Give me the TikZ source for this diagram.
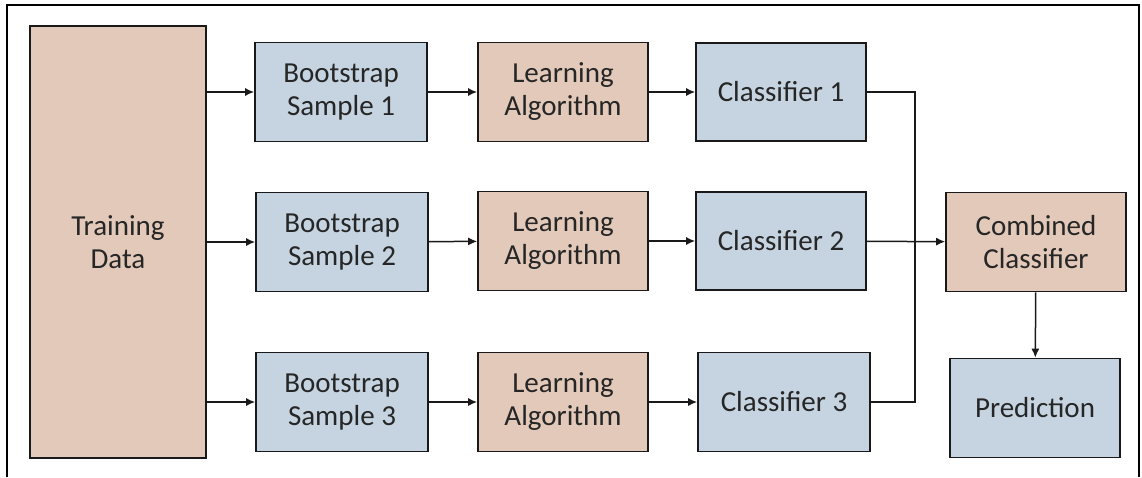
\documentclass[tikz,border=0pt]{standalone}
\usepackage{fontspec}
\setmainfont{Carlito}
\usepackage{tikz}
\usetikzlibrary{arrows.meta}

\definecolor{tanbox}{RGB}{226,201,185}
\definecolor{bluebox}{RGB}{197,212,224}

\tikzset{
  box/.style={draw=black!90, line width=1.6pt, align=center, text=black!85,
              font=\fontsize{29}{33}\selectfont, inner sep=0pt},
  tanbx/.style={box, fill=tanbox},
  bluebx/.style={box, fill=bluebox},
  arr/.style={line width=1.5pt, draw=black!90, -{Latex[length=9pt,width=8pt]}},
  wire/.style={line width=1.5pt, draw=black!90}
}

\begin{document}
\begin{tikzpicture}[x=1pt, y=-1pt]
\useasboundingbox (0,0) rectangle (1142,477);
\draw[line width=2.2pt] (7,477) -- (7,5) -- (1139,5) -- (1139,477);

\node[tanbx, minimum width=176pt, minimum height=432pt] (train) at (118,242) {Training\\Data};

\node[bluebx, minimum width=172pt, minimum height=99pt] (boot1) at (341,92) {Bootstrap\\Sample 1};
\node[bluebx, minimum width=172pt, minimum height=99pt] (boot2) at (342,242) {Bootstrap\\Sample 2};
\node[bluebx, minimum width=172pt, minimum height=99pt] (boot3) at (342,402) {Bootstrap\\Sample 3};

\node[tanbx, minimum width=170pt, minimum height=99pt] (learn1) at (563,92) {Learning\\Algorithm};
\node[tanbx, minimum width=170pt, minimum height=99pt] (learn2) at (563,241) {Learning\\Algorithm};
\node[tanbx, minimum width=170pt, minimum height=99pt] (learn3) at (563,402) {Learning\\Algorithm};

\node[bluebx, minimum width=170pt, minimum height=98pt] (clf1) at (781,92) {Classifier 1};
\node[bluebx, minimum width=170pt, minimum height=98pt] (clf2) at (781,241) {Classifier 2};
\node[bluebx, minimum width=172pt, minimum height=99pt] (clf3) at (784,402) {Classifier 3};

\node[tanbx, minimum width=180pt, minimum height=99pt] (comb) at (1036,242) {Combined\\Classifier};
\node[bluebx, minimum width=170pt, minimum height=99pt] (pred) at (1035,408) {Prediction};

\coordinate (bus) at (915,0);

\draw[arr] (train.east |- boot1) -- (boot1);
\draw[arr] (train.east |- boot2) -- (boot2);
\draw[arr] (train.east |- boot3) -- (boot3);
\draw[arr] (boot1) -- (learn1);
\draw[arr] (boot2) -- (learn2);
\draw[arr] (boot3) -- (learn3);
\draw[arr] (learn1) -- (clf1);
\draw[arr] (learn2) -- (clf2);
\draw[arr] (learn3) -- (clf3);
\draw[wire] (clf1.east) -- (clf1.east -| bus) -- (clf3.east -| bus) -- (clf3.east);
\draw[arr] (clf2) -- (comb);
\draw[arr] (comb) -- (pred);
\end{tikzpicture}
\end{document}
